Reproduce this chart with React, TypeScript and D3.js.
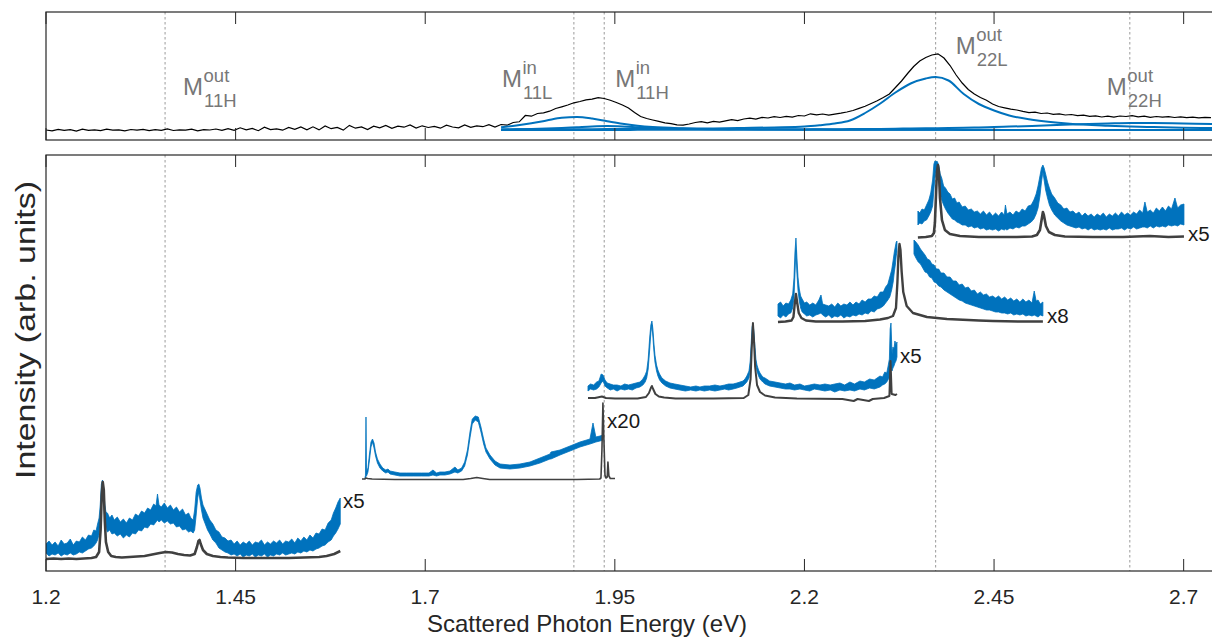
import React from "react";
import * as d3 from "d3";

// ---------- axis / annotation content ----------
const xTickValues = [1.2, 1.45, 1.7, 1.95, 2.2, 2.45, 2.7];
const xTickText = ["1.2", "1.45", "1.7", "1.95", "2.2", "2.45", "2.7"];

// resonance energies (eV) marked by dotted lines, with their labels
const resonanceEnergy = [1.357, 1.896, 1.936, 2.373, 2.629];
const resonanceSup = ["out", "in", "in", "out", "out"];
const resonanceSub = ["11H", "11L", "11H", "22L", "22H"];

// ---------- top panel: excitation profile ----------
const profileStart = 1.2;
const profileStep = 0.008;
const profileIntensity = [
  10, 9.2, 10.6, 9.6, 10.3, 8.9, 10.8, 9.7, 10.1, 9.4, 10.9, 9.8, 10.2, 9.1, 10.5, 9.9, 10.7, 9.3, 10.4, 9.6,
  11.2, 9.5, 10.1, 9.8, 10.9, 9.2, 10.3, 10.0, 11.0, 9.6,
  11.4, 9.6, 12.2, 10.1, 11.6, 9.3, 12.8, 10.4, 11.1, 9.8, 12.5, 10.6, 13.0, 10.2,
  13.2, 10.1, 14.0, 11.3, 12.6, 9.9, 14.6, 11.8, 13.1, 10.5, 13.8,
  12.2, 14.5, 11.6, 13.9, 12.8, 15.1, 11.9, 14.2, 12.5, 13.6, 11.8, 14.8, 13.0, 12.2, 15.0, 12.7, 14.1, 13.3, 15.4, 12.9,
  15.5, 14.8, 17.5, 18.2, 24.5, 23.8, 26.5, 27.2, 28.8, 31.5, 33.2, 35.0, 37.2, 38.5, 40.2, 40.8, 42.3, 41.5, 39.8, 37.5,
  35.0, 32.0, 27.5, 23.5, 21.5, 20.0, 18.6, 17.2, 16.4, 15.2, 14.8, 16.0, 17.5, 18.3, 17.1, 18.6, 17.8, 19.2, 20.3, 19.4,
  21.0, 21.8, 20.9, 22.6, 22.0, 23.4, 22.5, 23.6, 22.8, 24.5, 24.0, 26.2, 25.1, 26.0, 24.8, 25.9, 26.8, 28.0, 29.5, 31.6,
  33.8, 36.5, 39.2, 42.4, 46.0, 52.5, 59.0, 66.5, 73.5, 79.0, 82.5, 85.0, 86.2, 82.0, 74.5, 65.0, 57.0, 50.5, 46.0, 42.5,
  39.8, 36.0, 33.5, 32.2, 30.8, 30.0, 28.6, 27.4, 27.8, 26.5, 27.0, 25.6, 26.2, 25.0, 25.5, 24.3, 24.9, 23.6, 24.2, 23.0,
  23.8, 22.9, 24.0, 23.5, 24.4, 23.2, 23.8, 22.6, 23.5, 22.8, 23.4, 22.5, 23.1, 22.4, 22.9, 22.2, 22.6, 22.3,
];

// fitted components of the profile
const fitEnergy = [
  1.8, 1.82, 1.84, 1.86, 1.88, 1.9, 1.92, 1.94, 1.96, 1.98, 2.0, 2.04, 2.08, 2.12, 2.16, 2.2, 2.22, 2.24, 2.26,
  2.28, 2.3, 2.32, 2.34, 2.36, 2.373, 2.39, 2.41, 2.43, 2.45, 2.47, 2.5, 2.55, 2.6, 2.63, 2.66, 2.7, 2.74,
];
const fitM11L = [
  12.8, 14.5, 16.8, 19.5, 22.2, 23.0, 21.5, 18.8, 16.2, 14.3, 13.0, 11.7, 11.0, 10.7, 10.5, 10.4, 10.4, 10.35, 10.3,
  10.3, 10.3, 10.25, 10.25, 10.2, 10.2, 10.2, 10.2, 10.15, 10.15, 10.1, 10.1, 10.1, 10.1, 10.05, 10.05, 10.05, 10.0,
];
const fitM11H = [
  10.5, 10.7, 11.0, 11.4, 12.0, 12.8, 13.6, 14.0, 13.6, 12.8, 12.0, 11.2, 10.8, 10.5, 10.4, 10.3, 10.3, 10.25, 10.25,
  10.2, 10.2, 10.2, 10.2, 10.15, 10.15, 10.15, 10.1, 10.1, 10.1, 10.1, 10.1, 10.05, 10.05, 10.05, 10.05, 10.0, 10.0,
];
const fitM22L = [
  10.6, 10.65, 10.7, 10.7, 10.75, 10.8, 10.85, 10.9, 10.95, 11.0, 11.1, 11.3, 11.6, 12.0, 12.6, 13.5, 14.8, 16.5, 19.5,
  27.0, 36.5, 47.5, 56.5, 61.5, 63.0, 59.5, 46.0, 36.0, 29.5, 24.5, 20.2, 16.2, 14.3, 13.5, 12.9, 12.3, 11.9,
];
const fitM22H = [
  10.0, 10.0, 10.0, 10.05, 10.05, 10.05, 10.1, 10.1, 10.1, 10.15, 10.15, 10.2, 10.3, 10.4, 10.5, 10.6, 10.7, 10.8, 10.9,
  11.0, 11.1, 11.3, 11.5, 11.7, 11.8, 12.0, 12.3, 12.6, 13.0, 13.4, 14.1, 15.4, 16.5, 17.0, 16.9, 16.5, 16.0,
];

// ---------- bottom panel: stacked Raman spectra ----------
// raw spectra: [energy, intensity above the spectrum's own baseline]
const raw1 = [
  [1.2, 1], [1.21, 1.5], [1.22, 1], [1.23, 1.5], [1.24, 1], [1.25, 1.5], [1.26, 2], [1.266, 3], [1.27, 8], [1.272, 30],
  [1.2735, 65], [1.2748, 78], [1.2762, 70], [1.2775, 40], [1.279, 18], [1.282, 8], [1.286, 4], [1.292, 3], [1.3, 2.5],
  [1.31, 3], [1.32, 3.5], [1.33, 4], [1.34, 5.5], [1.35, 7], [1.358, 8], [1.366, 7.5], [1.374, 6], [1.382, 5],
  [1.39, 4.5], [1.396, 6], [1.399, 13], [1.401, 19], [1.4025, 20], [1.404, 16], [1.407, 10], [1.412, 6], [1.42, 4],
  [1.43, 3], [1.44, 2.5], [1.46, 2], [1.48, 2], [1.5, 2], [1.52, 2], [1.54, 2.5], [1.56, 3], [1.57, 4], [1.58, 6], [1.588, 9],
];
const raw2 = [
  [1.6166, 1], [1.6206, 1], [1.6219, 2], [1.624, 1.5], [1.63, 1], [1.66, 0.5], [1.7, 0.5], [1.75, 0.5], [1.76, 1.5],
  [1.768, 2.5], [1.776, 1.5], [1.785, 0.5], [1.85, 0.5], [1.9, 0.5], [1.93, 1], [1.9317, 2], [1.933, 30], [1.9343, 77],
  [1.9356, 40], [1.937, 5], [1.9383, 2], [1.94, 3], [1.9409, 18], [1.9422, 4], [1.944, 1.5], [1.9502, 1.5],
];
const raw3 = [
  [1.9146, 1], [1.9238, 1], [1.933, 2.5], [1.9383, 1], [1.9502, 0.5], [1.98, 0.5], [1.991, 2], [1.995, 6], [1.9975, 11],
  [1.9989, 13], [2.0005, 10], [2.0035, 5], [2.008, 2.5], [2.015, 1.5], [2.03, 0.5], [2.08, 0.5], [2.12, 1], [2.126, 4],
  [2.129, 20], [2.1305, 50], [2.1321, 76], [2.1335, 58], [2.135, 32], [2.1375, 14], [2.1414, 7], [2.148, 3.5],
  [2.1612, 1.5], [2.19, 0.5], [2.25, 0], [2.265, -2], [2.27, 0], [2.285, -2], [2.29, 0], [2.305, 1], [2.312, 3],
  [2.3135, 38], [2.315, 5], [2.32, 4], [2.322, 5],
];
const raw4 = [
  [2.1651, 0], [2.175, 0.5], [2.183, 1.5], [2.1855, 5], [2.1872, 18], [2.1888, 28], [2.1903, 20], [2.1925, 9], [2.196, 4],
  [2.202, 1.5], [2.215, 0.5], [2.25, 0.5], [2.28, 1], [2.2996, 2.5], [2.3101, 4], [2.3167, 6], [2.3207, 14], [2.3226, 40],
  [2.3239, 66], [2.3253, 78], [2.3266, 72], [2.3282, 50], [2.3303, 30], [2.3348, 16], [2.3431, 9], [2.3615, 5],
  [2.3879, 3], [2.43, 1.5], [2.4485, 1], [2.4841, 0.5], [2.5144, 0.5],
];
const raw5 = [
  [2.3496, 0.5], [2.36, 1], [2.368, 2], [2.3707, 5], [2.372, 15], [2.3734, 42], [2.3747, 66], [2.376, 73], [2.3773, 66],
  [2.3787, 40], [2.3813, 18], [2.3852, 8], [2.3918, 4], [2.405, 2], [2.43, 1], [2.48, 1], [2.5, 1.5], [2.5065, 3],
  [2.5105, 8], [2.5131, 20], [2.5144, 26], [2.5157, 23], [2.5184, 12], [2.5223, 6], [2.5302, 3], [2.5434, 1.5],
  [2.58, 1], [2.62, 1], [2.6555, 2], [2.68, 1], [2.7004, 1.5],
];

// magnified spectra: [energy, lower envelope, upper envelope] above the same baseline
const mag1 = [
  [1.2, 7, 16], [1.204, 4, 19], [1.208, 6, 15], [1.212, 5, 18], [1.216, 7, 14], [1.22, 4, 20], [1.224, 6, 16],
  [1.228, 5, 17], [1.232, 7, 21], [1.236, 5, 15], [1.24, 6, 19], [1.244, 8, 18], [1.248, 7, 23], [1.252, 9, 20],
  [1.256, 11, 25], [1.26, 12, 24], [1.263, 14, 30], [1.266, 17, 29], [1.268, 20, 36], [1.27, 26, 42], [1.2715, 34, 55],
  [1.273, 60, 76], [1.2745, 76, 80], [1.276, 58, 72], [1.2775, 40, 56], [1.279, 33, 48], [1.281, 28, 47], [1.284, 30, 42],
  [1.287, 26, 45], [1.29, 27, 40], [1.294, 24, 43], [1.298, 26, 38], [1.302, 22, 41], [1.306, 25, 37], [1.31, 23, 42],
  [1.314, 27, 40], [1.318, 26, 46], [1.322, 30, 44], [1.326, 29, 49], [1.33, 33, 47], [1.334, 32, 52], [1.338, 36, 50],
  [1.342, 35, 56], [1.345, 38, 54], [1.347, 40, 66], [1.349, 38, 55], [1.352, 40, 53], [1.356, 37, 57], [1.36, 39, 52],
  [1.364, 36, 55], [1.368, 37, 50], [1.372, 33, 53], [1.376, 34, 48], [1.38, 30, 51], [1.384, 31, 45], [1.388, 28, 47],
  [1.391, 29, 42], [1.394, 27, 40], [1.396, 30, 50], [1.398, 45, 68], [1.4, 62, 75], [1.4015, 68, 76], [1.403, 60, 72],
  [1.405, 50, 62], [1.407, 42, 55], [1.41, 36, 50], [1.413, 30, 45], [1.416, 26, 40], [1.42, 20, 36], [1.424, 17, 30],
  [1.428, 12, 28], [1.432, 10, 23], [1.436, 8, 22], [1.44, 7, 19], [1.444, 5, 20], [1.448, 6, 16], [1.452, 4, 19],
  [1.456, 6, 15], [1.46, 3, 18], [1.464, 5, 16], [1.468, 4, 19], [1.472, 6, 15], [1.476, 3, 18], [1.48, 5, 17],
  [1.484, 4, 20], [1.488, 6, 15], [1.492, 3, 18], [1.496, 5, 16], [1.5, 4, 19], [1.504, 6, 17], [1.508, 5, 20],
  [1.512, 7, 16], [1.516, 5, 19], [1.52, 6, 18], [1.524, 7, 21], [1.528, 6, 17], [1.532, 8, 22], [1.536, 7, 19],
  [1.54, 9, 23], [1.544, 8, 20], [1.548, 10, 25], [1.552, 9, 22], [1.556, 11, 27], [1.56, 12, 26], [1.564, 14, 31],
  [1.568, 15, 30], [1.572, 18, 37], [1.576, 20, 40], [1.579, 24, 47], [1.582, 27, 52], [1.585, 31, 58], [1.588, 36, 62],
];
const mag2 = [
  [1.6206, 1, 3], [1.6212, 2, 4], [1.6219, 4, 63], [1.6226, 4, 8], [1.6245, 8, 12], [1.6265, 20, 26], [1.6285, 33, 38],
  [1.6305, 38, 41], [1.6325, 32, 37], [1.6345, 24, 28], [1.637, 17, 21], [1.6403, 12, 16], [1.644, 9, 12],
  [1.648, 7, 10], [1.6509, 8, 11], [1.6535, 6, 9], [1.66, 5, 8], [1.6667, 4, 7], [1.675, 4, 7], [1.685, 4, 7],
  [1.695, 4, 7], [1.705, 4, 7], [1.7102, 5, 10], [1.715, 4, 7], [1.7194, 5, 8], [1.726, 5, 8], [1.7326, 6, 9],
  [1.7392, 8, 13], [1.743, 7, 10], [1.748, 9, 12], [1.752, 14, 18], [1.7557, 25, 30], [1.759, 42, 48],
  [1.762, 56, 61], [1.766, 60, 64], [1.77, 58, 63], [1.7735, 48, 53], [1.777, 36, 41], [1.7801, 28, 32],
  [1.7854, 21, 25], [1.792, 15, 19], [1.7986, 12, 16], [1.8117, 11, 15], [1.8249, 12, 16], [1.8381, 14, 18],
  [1.8513, 17, 22], [1.8645, 21, 26], [1.8658, 21, 28], [1.8777, 25, 30], [1.8909, 29, 34], [1.904, 33, 38],
  [1.9172, 36, 41], [1.9212, 37, 57], [1.925, 38, 43], [1.9304, 39, 44], [1.9343, 40, 45],
];
const mag3 = [
  [1.9146, 8, 13], [1.918, 10, 15], [1.922, 9, 14], [1.926, 10, 17], [1.929, 12, 18], [1.932, 16, 25], [1.9345, 18, 24],
  [1.937, 13, 19], [1.94, 11, 16], [1.944, 9, 15], [1.948, 10, 14], [1.953, 8, 14], [1.958, 10, 13], [1.963, 9, 15],
  [1.968, 10, 14], [1.973, 9, 15], [1.978, 11, 16], [1.983, 12, 17], [1.987, 14, 20], [1.99, 17, 24], [1.992, 21, 28],
  [1.994, 30, 40], [1.996, 50, 62], [1.9975, 66, 74], [1.9989, 74, 78], [2.0002, 62, 70], [2.0015, 48, 56],
  [2.0029, 37, 44], [2.005, 28, 34], [2.0068, 23, 29], [2.009, 19, 25], [2.0121, 16, 21], [2.017, 13, 18],
  [2.0227, 11, 16], [2.029, 10, 15], [2.0359, 9, 14], [2.043, 8, 13], [2.05, 9, 12], [2.057, 8, 13], [2.0622, 9, 12],
  [2.068, 8, 13], [2.075, 9, 13], [2.082, 8, 14], [2.0886, 9, 13], [2.095, 10, 14], [2.1, 9, 15], [2.106, 10, 15],
  [2.111, 11, 16], [2.115, 12, 17], [2.119, 13, 18], [2.1216, 15, 20], [2.124, 17, 23], [2.1269, 21, 28],
  [2.1285, 30, 38], [2.1295, 42, 52], [2.131, 62, 72], [2.1321, 72, 76], [2.1335, 58, 66], [2.1348, 44, 52],
  [2.136, 34, 40], [2.1374, 28, 34], [2.1395, 23, 29], [2.1414, 20, 26], [2.145, 17, 22], [2.148, 15, 21],
  [2.154, 13, 18], [2.1612, 12, 17], [2.168, 11, 16], [2.175, 10, 15], [2.1809, 10, 16], [2.187, 9, 14],
  [2.1941, 10, 15], [2.2, 9, 13], [2.207, 8, 14], [2.213, 10, 15], [2.2205, 9, 14], [2.227, 8, 15], [2.234, 9, 14],
  [2.24, 7, 15], [2.2468, 9, 16], [2.253, 8, 14], [2.26, 9, 17], [2.266, 8, 15], [2.2732, 10, 18], [2.279, 9, 17],
  [2.286, 11, 20], [2.292, 10, 19], [2.2996, 12, 23], [2.303, 14, 22], [2.306, 15, 27], [2.3085, 17, 26],
  [2.3101, 19, 32], [2.312, 22, 40], [2.313, 26, 70], [2.3141, 30, 76], [2.3155, 28, 45], [2.3167, 31, 52],
  [2.318, 33, 50], [2.3193, 36, 58], [2.3207, 38, 54], [2.322, 42, 57],
];
const mag4 = [
  [2.1651, 6, 18], [2.1685, 4, 20], [2.172, 7, 16], [2.1755, 5, 19], [2.179, 8, 18], [2.182, 9, 22], [2.1845, 14, 28],
  [2.1862, 24, 44], [2.1875, 48, 70], [2.1888, 72, 84], [2.19, 50, 66], [2.1915, 32, 45], [2.1932, 21, 33],
  [2.195, 14, 26], [2.197, 10, 23], [2.2, 8, 19], [2.203, 6, 20], [2.207, 7, 17], [2.211, 5, 19], [2.215, 7, 17],
  [2.219, 8, 22], [2.2218, 9, 27], [2.224, 7, 18], [2.228, 5, 17], [2.232, 7, 16], [2.236, 4, 18], [2.24, 6, 15],
  [2.244, 5, 19], [2.248, 7, 16], [2.252, 4, 18], [2.256, 6, 17], [2.26, 5, 20], [2.264, 7, 17], [2.268, 6, 20],
  [2.272, 8, 18], [2.276, 7, 22], [2.28, 9, 20], [2.284, 8, 23], [2.288, 11, 23], [2.292, 10, 26], [2.296, 13, 25],
  [2.3, 14, 30], [2.304, 16, 30], [2.307, 19, 35], [2.31, 22, 38], [2.3125, 25, 45], [2.315, 32, 52], [2.317, 40, 62],
  [2.3185, 50, 70], [2.32, 58, 76], [2.321, 66, 80], [2.322, 70, 81], [2.333, NaN, NaN],
  [2.3444, 68, 82], [2.347, 64, 80], [2.35, 60, 77], [2.353, 58, 73], [2.356, 54, 70], [2.359, 50, 67], [2.362, 49, 63],
  [2.365, 45, 62], [2.368, 44, 58], [2.371, 40, 57], [2.374, 39, 53], [2.377, 36, 53], [2.38, 35, 49], [2.384, 32, 49],
  [2.388, 30, 45], [2.392, 28, 45], [2.396, 26, 41], [2.4, 24, 41], [2.404, 22, 37], [2.408, 21, 38], [2.412, 19, 34],
  [2.416, 18, 35], [2.42, 17, 31], [2.424, 16, 32], [2.428, 15, 28], [2.432, 14, 30], [2.436, 13, 27], [2.44, 12, 28],
  [2.444, 12, 25], [2.448, 11, 26], [2.452, 10, 24], [2.456, 10, 26], [2.46, 9, 23], [2.464, 9, 25], [2.468, 8, 22],
  [2.472, 9, 24], [2.476, 7, 21], [2.48, 8, 23], [2.484, 7, 20], [2.488, 8, 23], [2.492, 6, 20], [2.496, 7, 22],
  [2.5, 6, 19], [2.503, 7, 31], [2.5055, 6, 21], [2.508, 5, 22], [2.511, 7, 18], [2.5144, 6, 20],
];
const mag5 = [
  [2.3496, 13, 27], [2.352, 15, 25], [2.355, 14, 29], [2.358, 17, 28], [2.361, 18, 33], [2.364, 22, 38],
  [2.3665, 26, 45], [2.369, 32, 58], [2.3707, 48, 74], [2.372, 60, 77], [2.3735, 66, 76], [2.3747, 68, 77],
  [2.376, 62, 75], [2.3773, 55, 72], [2.379, 45, 64], [2.381, 38, 60], [2.3835, 33, 52], [2.386, 29, 50],
  [2.389, 25, 46], [2.392, 22, 44], [2.395, 19, 39], [2.398, 18, 40], [2.401, 16, 35], [2.404, 15, 36], [2.408, 13, 31],
  [2.412, 13, 32], [2.416, 11, 28], [2.42, 12, 29], [2.424, 10, 26], [2.428, 11, 27], [2.432, 9, 24], [2.436, 10, 27],
  [2.44, 8, 23], [2.444, 9, 26], [2.448, 8, 22], [2.452, 9, 25], [2.456, 7, 22], [2.46, 9, 26], [2.4635, 8, 23],
  [2.465, 9, 33], [2.467, 8, 24], [2.471, 10, 26], [2.475, 9, 23], [2.479, 11, 27], [2.483, 10, 25], [2.487, 12, 29],
  [2.491, 12, 27], [2.495, 14, 32], [2.499, 16, 33], [2.5025, 19, 38], [2.5055, 24, 44], [2.508, 30, 52],
  [2.5105, 42, 62], [2.5125, 56, 70], [2.5144, 66, 73], [2.516, 58, 70], [2.518, 48, 64], [2.5205, 40, 56],
  [2.523, 33, 50], [2.526, 28, 44], [2.53, 23, 40], [2.534, 20, 35], [2.538, 17, 33], [2.542, 15, 29], [2.546, 13, 30],
  [2.55, 12, 26], [2.554, 11, 27], [2.558, 10, 24], [2.562, 11, 26], [2.566, 9, 22], [2.57, 10, 25], [2.574, 8, 22],
  [2.578, 10, 24], [2.582, 8, 21], [2.586, 9, 24], [2.59, 8, 22], [2.594, 9, 25], [2.598, 8, 21], [2.602, 10, 24],
  [2.606, 8, 22], [2.61, 9, 25], [2.614, 9, 22], [2.618, 10, 26], [2.622, 8, 23], [2.626, 10, 25], [2.63, 9, 23],
  [2.634, 11, 26], [2.638, 9, 24], [2.642, 10, 28], [2.646, 11, 25], [2.6489, 11, 36], [2.652, 10, 26],
  [2.656, 12, 28], [2.66, 10, 25], [2.664, 12, 30], [2.668, 11, 27], [2.672, 12, 31], [2.676, 11, 27], [2.68, 13, 32],
  [2.684, 12, 29], [2.6885, 13, 40], [2.692, 12, 30], [2.696, 14, 33], [2.7004, 13, 34],
];

const rawSpectra = [raw1, raw2, raw3, raw4, raw5];
const magSpectra = [mag1, mag2, mag3, mag4, mag5];
const stackOffset = [11, 91, 172, 249, 333];
const magFactor = ["x5", "x20", "x5", "x8", "x5"];

// ---------- layout ----------
const W = 1212;
const H = 643;
const LEFT = 46;
const RIGHT = 1214;
const TOP_Y0 = 12;
const TOP_Y1 = 140;
const BOT_Y0 = 155;
const BOT_Y1 = 571;
const TICK = 12;

const FONT = "'Liberation Sans', Arial, Helvetica, sans-serif";
const AXIS_COLOR = "#262626";
const BLUE = "#0072BD";
const GRAY_LINE = "#404040";
const LABEL_GRAY = "#777777";

// label anchors: [offset of "M" from the dotted line, text baseline]
const resonanceLabelLayout = [
  [18, 95],
  [-72, 87],
  [11, 87],
  [20, 54],
  [-23, 95],
];
// magnification tags: [x, baseline]
const magLabelLayout = [
  [343, 508],
  [607, 428],
  [900, 363],
  [1047, 323],
  [1188, 241],
];
const rawStroke = [2.6, 1.6, 2.0, 2.4, 2.6];

export default function App() {
  const x = d3.scaleLinear().domain([1.2, 2.74]).range([LEFT, RIGHT]);
  const yTop = d3.scaleLinear().domain([0, 128]).range([TOP_Y1, TOP_Y0]);
  const yBot = d3.scaleLinear().domain([0, 416]).range([BOT_Y1, BOT_Y0]);

  const profileLine = d3
    .line<number>()
    .x((_, i) => x(profileStart + i * profileStep))
    .y((v) => yTop(v));

  const fitLine = d3
    .line<number>()
    .curve(d3.curveMonotoneX)
    .x((_, i) => x(fitEnergy[i]))
    .y((v) => yTop(v));

  const fits = [fitM11L, fitM11H, fitM22L, fitM22H];

  const panelTicks = (y0: number, y1: number, key: string) =>
    xTickValues.map((t, i) => (
      <g key={`${key}-${i}`}>
        <line x1={x(t)} x2={x(t)} y1={y0} y2={y0 + TICK} stroke={AXIS_COLOR} strokeWidth={1} />
        <line x1={x(t)} x2={x(t)} y1={y1} y2={y1 - TICK} stroke={AXIS_COLOR} strokeWidth={1} />
      </g>
    ));

  return (
    <svg
      width={W}
      height={H}
      viewBox={`0 0 ${W} ${H}`}
      style={{ position: "absolute", left: 0, top: 0, background: "#fff" }}
      fontFamily={FONT}
    >
      <defs>
        <clipPath id="clipTop">
          <rect x={LEFT} y={TOP_Y0} width={RIGHT - LEFT} height={TOP_Y1 - TOP_Y0} />
        </clipPath>
        <clipPath id="clipBot">
          <rect x={LEFT} y={BOT_Y0} width={RIGHT - LEFT} height={BOT_Y1 - BOT_Y0} />
        </clipPath>
      </defs>
      <rect width={W} height={H} fill="#fff" />

      {/* dotted resonance markers */}
      {resonanceEnergy.map((e, i) => (
        <g key={`res-${i}`} stroke="#9a9a9a" strokeWidth={1} strokeDasharray="2.5,2.5">
          <line x1={x(e)} x2={x(e)} y1={TOP_Y0} y2={TOP_Y1} />
          <line x1={x(e)} x2={x(e)} y1={BOT_Y0} y2={BOT_Y1} />
        </g>
      ))}

      {/* top panel */}
      <g clipPath="url(#clipTop)">
        <path d={profileLine(profileIntensity) || ""} fill="none" stroke="#000" strokeWidth={1.2} />
        {fits.map((f, i) => (
          <path key={`fit-${i}`} d={fitLine(f) || ""} fill="none" stroke={BLUE} strokeWidth={2} />
        ))}
      </g>
      {resonanceEnergy.map((e, i) => {
        const [dx, by] = resonanceLabelLayout[i];
        const lx = x(e) + dx;
        return (
          <g key={`rl-${i}`} fill={LABEL_GRAY}>
            <text x={lx} y={by} fontSize={24}>M</text>
            <text x={lx + 20.5} y={by - 13} fontSize={18.5}>{resonanceSup[i]}</text>
            <text x={lx + 21} y={by + 12} fontSize={18.5}>{resonanceSub[i]}</text>
          </g>
        );
      })}

      {/* bottom panel */}
      <g clipPath="url(#clipBot)">
        {magSpectra.map((spec, k) => {
          const off = stackOffset[k];
          const band = d3
            .area<number[]>()
            .defined((d) => !isNaN(d[1]))
            .x((d) => x(d[0]))
            .y0((d) => yBot(off + d[1]))
            .y1((d) => yBot(off + d[2]));
          const rawLine = d3
            .line<number[]>()
            .x((d) => x(d[0]))
            .y((d) => yBot(off + d[1]));
          return (
            <g key={`spec-${k}`}>
              <path d={band(spec) || ""} fill={BLUE} stroke={BLUE} strokeWidth={0.8} strokeLinejoin="round" />
              <path
                d={rawLine(rawSpectra[k]) || ""}
                fill="none"
                stroke={GRAY_LINE}
                strokeWidth={rawStroke[k]}
                strokeLinejoin="round"
              />
            </g>
          );
        })}
      </g>
      {magFactor.map((t, k) => (
        <text key={`mf-${k}`} x={magLabelLayout[k][0]} y={magLabelLayout[k][1]} fontSize={20.5} fill="#1a1a1a">
          {t}
        </text>
      ))}

      {/* frames and ticks */}
      <rect x={LEFT} y={TOP_Y0} width={RIGHT - LEFT} height={TOP_Y1 - TOP_Y0} fill="none" stroke={AXIS_COLOR} strokeWidth={1.2} />
      <rect x={LEFT} y={BOT_Y0} width={RIGHT - LEFT} height={BOT_Y1 - BOT_Y0} fill="none" stroke={AXIS_COLOR} strokeWidth={1.2} />
      {panelTicks(TOP_Y0, TOP_Y1, "tt")}
      {panelTicks(BOT_Y0, BOT_Y1, "bt")}

      {xTickValues.map((t, i) => (
        <text key={`tl-${i}`} x={x(t)} y={604} fontSize={21} textAnchor="middle" fill={AXIS_COLOR}>
          {xTickText[i]}
        </text>
      ))}
      <text x={587} y={632} fontSize={24} textAnchor="middle" fill={AXIS_COLOR}>
        Scattered Photon Energy (eV)
      </text>
      <text
        transform={`translate(35, 330) rotate(-90)`}
        fontSize={27}
        textAnchor="middle"
        textLength={298}
        lengthAdjust="spacingAndGlyphs"
        fill={AXIS_COLOR}
      >
        Intensity (arb. units)
      </text>
    </svg>
  );
}
